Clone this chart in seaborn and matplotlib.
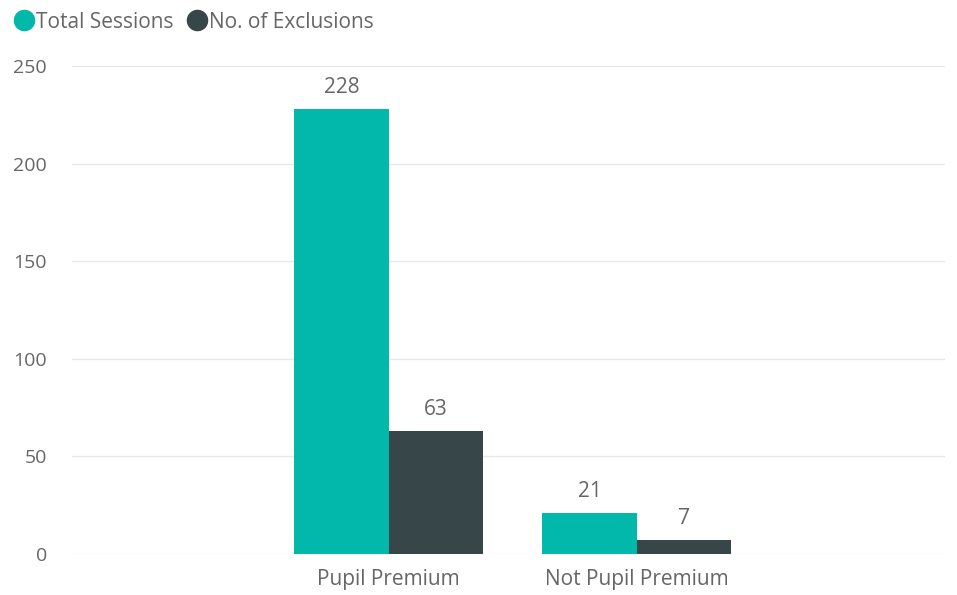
import pandas as pd
import matplotlib.pyplot as plt
import seaborn as sns
from matplotlib.lines import Line2D

categories = ["Pupil Premium", "Not Pupil Premium"]
series = ["Total Sessions", "No. of Exclusions"]
total_sessions = [228, 21]
exclusions = [63, 7]
colors = ["#01B8AA", "#374649"]

df = pd.DataFrame({
    "category": categories * 2,
    "series": [series[0]] * 2 + [series[1]] * 2,
    "value": total_sessions + exclusions,
})

sns.set_theme(style="white")
plt.rcParams["font.family"] = ["Open Sans", "DejaVu Sans"]
text_col = "#666666"

fig = plt.figure(figsize=(9.57, 5.95), dpi=100)
ax = fig.add_axes([0.075, 0.069, 0.912, 0.82])

sns.barplot(data=df, x="category", y="value", hue="series", order=categories,
            hue_order=series, palette=colors, width=0.76, saturation=1,
            linewidth=0, legend=False, ax=ax)

for cont in ax.containers:
    ax.bar_label(cont, padding=8, fontsize=15, color=text_col)

ax.set_ylim(0, 250)
ax.set_yticks([0, 50, 100, 150, 200, 250])
ax.set_xlim(-1.278, 2.242)
ax.set_xlabel("")
ax.set_ylabel("")
ax.yaxis.grid(True, color="#E8E8E8", linewidth=1)
ax.set_axisbelow(True)
for s in ax.spines.values():
    s.set_visible(False)
ax.tick_params(axis="y", length=0, labelsize=14, labelcolor=text_col, pad=18)
ax.tick_params(axis="x", length=0, labelsize=15, labelcolor=text_col, pad=11)

handles = [Line2D([], [], marker="o", linestyle="", markersize=14.5,
                  markerfacecolor=c, markeredgecolor=c) for c in colors]
fig.legend(handles, series, loc="upper left", bbox_to_anchor=(-0.008, 1.012),
           ncol=2, frameon=False, fontsize=15, labelcolor=text_col,
           handletextpad=0.0, columnspacing=0.5, handlelength=1.2)

fig.savefig("out.png", dpi=100)
